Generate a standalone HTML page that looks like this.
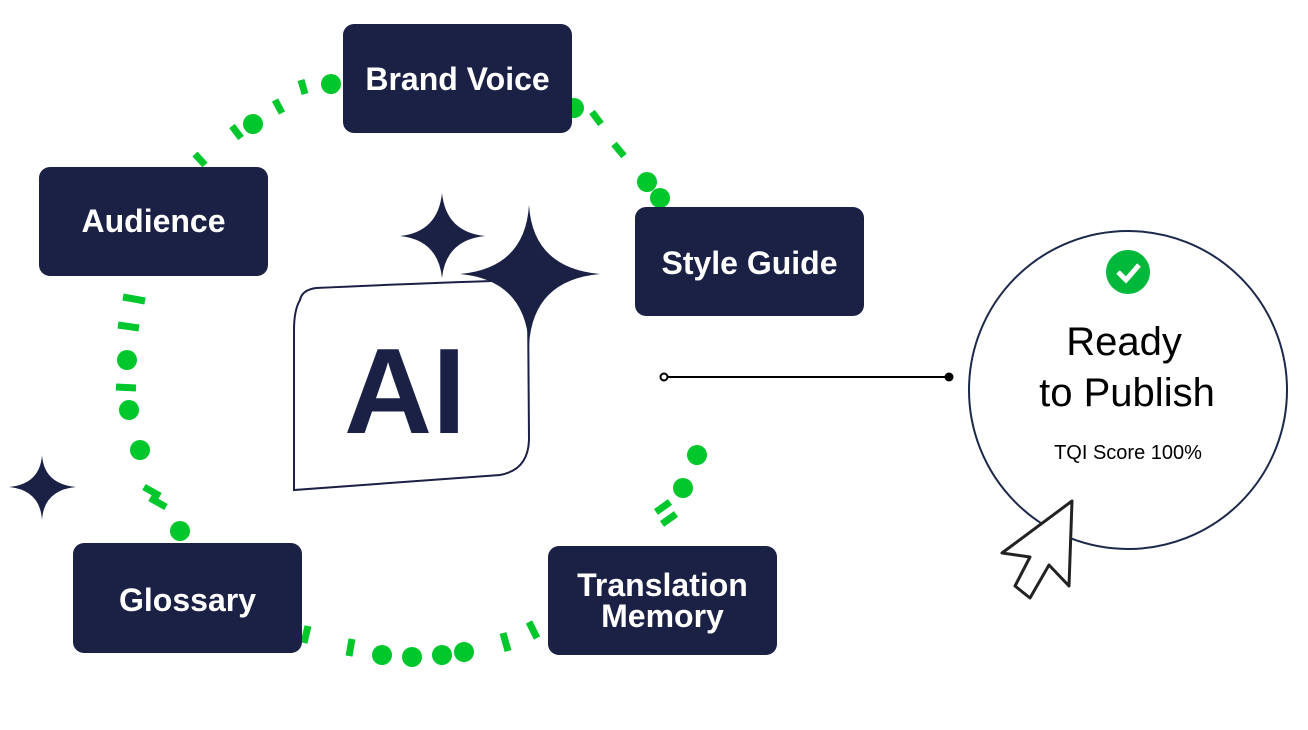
<!DOCTYPE html>
<html><head><meta charset="utf-8"><style>
body{margin:0;width:1308px;height:730px;background:#fff;position:relative;overflow:hidden;font-family:"Liberation Sans",sans-serif}
.b{position:absolute;background:#1b2045;border-radius:11px;color:#fff;font-weight:bold;font-size:32px;display:flex;align-items:center;justify-content:center;text-align:center;line-height:31px}
</style></head><body>
<svg width="1308" height="730" style="position:absolute;left:0;top:0">
<g fill="#00c72c">
<circle cx="331" cy="84" r="10"/><circle cx="253" cy="124" r="10"/><circle cx="574" cy="108" r="10"/><circle cx="647" cy="182" r="10"/><circle cx="660" cy="198" r="10"/>
<circle cx="127" cy="360" r="10"/><circle cx="129" cy="410" r="10"/><circle cx="140" cy="450" r="10"/><circle cx="180" cy="531" r="10"/>
<circle cx="382" cy="655" r="10"/><circle cx="412" cy="657" r="10"/><circle cx="442" cy="655" r="10"/><circle cx="464" cy="652" r="10"/>
<circle cx="697" cy="455" r="10"/><circle cx="683" cy="488" r="10"/>
</g>
<g stroke="#00c72c" stroke-width="7">
<line x1="301" y1="80" x2="305" y2="94"/><line x1="275" y1="100" x2="282" y2="113"/><line x1="232" y1="126" x2="241" y2="138"/><line x1="195" y1="154" x2="205" y2="165"/>
<line x1="592" y1="112" x2="601" y2="124"/><line x1="614" y1="144" x2="624" y2="156"/>
<line x1="123" y1="297" x2="145" y2="301"/><line x1="118" y1="325" x2="139" y2="328"/><line x1="116" y1="387" x2="136" y2="388"/>
<line x1="144" y1="487" x2="160" y2="496"/><line x1="150" y1="498" x2="166" y2="507"/>
<line x1="308" y1="626" x2="304" y2="643"/><line x1="352" y1="639" x2="349" y2="656"/><line x1="503" y1="633" x2="508" y2="651"/><line x1="529" y1="622" x2="537" y2="638"/>
<line x1="656" y1="512" x2="670" y2="502"/><line x1="662" y1="524" x2="676" y2="514"/>
</g>
<path d="M300 300 Q294 310 294 330 L294 490 L500 475 Q528 470 529 440 L528 300 L520 280 Q400 284 316 288 Q302 290 300 300Z" fill="#fff" stroke="#1b2045" stroke-width="2"/>
<text x="344" y="433" font-family="Liberation Sans" font-weight="bold" font-size="122" fill="#1b2045">AI</text>
<path d="M442 193 Q446 232 485 236 Q446 240 442 278 Q438 240 400 236 Q438 232 442 193Z" fill="#1b2045"/>
<path d="M529 205 Q533 268 600 274 Q533 280 529 345 Q525 280 460 274 Q525 268 529 205Z" fill="#1b2045"/>
<path d="M42 455 Q44 484 76 487 Q44 490 42 520 Q40 490 9 487 Q40 484 42 455Z" fill="#1b2045"/>
<line x1="664" y1="377" x2="948" y2="377" stroke="#000" stroke-width="2"/>
<circle cx="664" cy="377" r="3.5" fill="#fff" stroke="#000" stroke-width="2"/><circle cx="949" cy="377" r="4.5" fill="#000"/>
<circle cx="1128" cy="390" r="159" fill="#fff" stroke="#1b2a4a" stroke-width="2"/>
<circle cx="1128" cy="272" r="22" fill="#00b83a"/>
<path d="M1118 272 L1126 280 L1139 265" fill="none" stroke="#fff" stroke-width="5"/>
<text x="1124" y="355" text-anchor="middle" font-size="40" fill="#000" font-family="Liberation Sans">Ready</text>
<text x="1127" y="406" text-anchor="middle" font-size="40" fill="#000" font-family="Liberation Sans">to Publish</text>
<text x="1128" y="459" text-anchor="middle" font-size="20" fill="#000" font-family="Liberation Sans">TQI Score 100%</text>
<path d="M1072 501 L1002 553 L1030 557 L1015 586 L1030 598 L1049 565 L1069 586 Z" fill="#fff" stroke="#222" stroke-width="3" stroke-linejoin="round"/>
</svg>
<div class="b" style="left:343px;top:24px;width:229px;height:109px;align-items:flex-start;padding-top:0"><span style="margin-top:40px">Brand Voice</span></div>
<div class="b" style="left:39px;top:167px;width:229px;height:109px">Audience</div>
<div class="b" style="left:635px;top:207px;width:229px;height:109px;padding-top:4px;box-sizing:border-box">Style Guide</div>
<div class="b" style="left:73px;top:543px;width:229px;height:110px;padding-top:4px;box-sizing:border-box">Glossary</div>
<div class="b" style="left:548px;top:546px;width:229px;height:109px">Translation<br>Memory</div>
</body></html>
